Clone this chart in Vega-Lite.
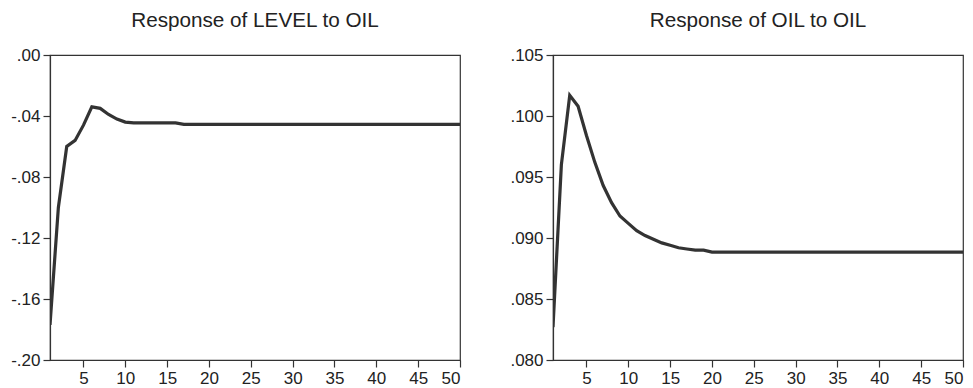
{
  "$schema": "https://vega.github.io/schema/vega-lite/v6.json",
  "background": "white",
  "padding": {"left": 4, "top": 9, "right": 2, "bottom": 0},
  "spacing": 45,
  "config": {
    "font": "Liberation Sans",
    "view": {"stroke": "#333", "strokeWidth": 1.2},
    "axis": {
      "grid": false,
      "domainColor": "#333",
      "domainWidth": 1.2,
      "tickColor": "#333",
      "tickWidth": 1.2,
      "tickSize": 7,
      "labelFont": "Liberation Sans",
      "labelFontSize": 17,
      "labelColor": "#222",
      "labelPadding": 3,
      "title": null
    },
    "title": {"font": "Liberation Sans", "fontSize": 20.7, "fontWeight": "normal", "color": "#222", "anchor": "middle", "offset": 14}
  },
  "datasets": {
    "level": [
      {"period": 1, "value": -0.177}, {"period": 2, "value": -0.100}, {"period": 3, "value": -0.060},
      {"period": 4, "value": -0.056}, {"period": 5, "value": -0.046}, {"period": 6, "value": -0.034},
      {"period": 7, "value": -0.035}, {"period": 8, "value": -0.039}, {"period": 9, "value": -0.042},
      {"period": 10, "value": -0.044}, {"period": 11, "value": -0.0445}, {"period": 12, "value": -0.0445},
      {"period": 13, "value": -0.0445}, {"period": 14, "value": -0.0445}, {"period": 15, "value": -0.0445},
      {"period": 16, "value": -0.0445}, {"period": 17, "value": -0.0455}, {"period": 18, "value": -0.0455},
      {"period": 19, "value": -0.0455}, {"period": 20, "value": -0.0455}, {"period": 21, "value": -0.0455},
      {"period": 22, "value": -0.0455}, {"period": 23, "value": -0.0455}, {"period": 24, "value": -0.0455},
      {"period": 25, "value": -0.0455}, {"period": 26, "value": -0.0455}, {"period": 27, "value": -0.0455},
      {"period": 28, "value": -0.0455}, {"period": 29, "value": -0.0455}, {"period": 30, "value": -0.0455},
      {"period": 31, "value": -0.0455}, {"period": 32, "value": -0.0455}, {"period": 33, "value": -0.0455},
      {"period": 34, "value": -0.0455}, {"period": 35, "value": -0.0455}, {"period": 36, "value": -0.0455},
      {"period": 37, "value": -0.0455}, {"period": 38, "value": -0.0455}, {"period": 39, "value": -0.0455},
      {"period": 40, "value": -0.0455}, {"period": 41, "value": -0.0455}, {"period": 42, "value": -0.0455},
      {"period": 43, "value": -0.0455}, {"period": 44, "value": -0.0455}, {"period": 45, "value": -0.0455},
      {"period": 46, "value": -0.0455}, {"period": 47, "value": -0.0455}, {"period": 48, "value": -0.0455},
      {"period": 49, "value": -0.0455}, {"period": 50, "value": -0.0455}
    ],
    "oil": [
      {"period": 1, "value": 0.0827}, {"period": 2, "value": 0.0960}, {"period": 3, "value": 0.1017},
      {"period": 4, "value": 0.1008}, {"period": 5, "value": 0.0984}, {"period": 6, "value": 0.0962},
      {"period": 7, "value": 0.0943}, {"period": 8, "value": 0.0929}, {"period": 9, "value": 0.0918},
      {"period": 10, "value": 0.0912}, {"period": 11, "value": 0.0906}, {"period": 12, "value": 0.0902},
      {"period": 13, "value": 0.0899}, {"period": 14, "value": 0.0896}, {"period": 15, "value": 0.0894},
      {"period": 16, "value": 0.0892}, {"period": 17, "value": 0.0891}, {"period": 18, "value": 0.0890},
      {"period": 19, "value": 0.0890}, {"period": 20, "value": 0.08885}, {"period": 21, "value": 0.08885},
      {"period": 22, "value": 0.08885}, {"period": 23, "value": 0.08885}, {"period": 24, "value": 0.08885},
      {"period": 25, "value": 0.08885}, {"period": 26, "value": 0.08885}, {"period": 27, "value": 0.08885},
      {"period": 28, "value": 0.08885}, {"period": 29, "value": 0.08885}, {"period": 30, "value": 0.08885},
      {"period": 31, "value": 0.08885}, {"period": 32, "value": 0.08885}, {"period": 33, "value": 0.08885},
      {"period": 34, "value": 0.08885}, {"period": 35, "value": 0.08885}, {"period": 36, "value": 0.08885},
      {"period": 37, "value": 0.08885}, {"period": 38, "value": 0.08885}, {"period": 39, "value": 0.08885},
      {"period": 40, "value": 0.08885}, {"period": 41, "value": 0.08885}, {"period": 42, "value": 0.08885},
      {"period": 43, "value": 0.08885}, {"period": 44, "value": 0.08885}, {"period": 45, "value": 0.08885},
      {"period": 46, "value": 0.08885}, {"period": 47, "value": 0.08885}, {"period": 48, "value": 0.08885},
      {"period": 49, "value": 0.08885}, {"period": 50, "value": 0.08885}
    ]
  },
  "hconcat": [
    {
      "title": "Response of LEVEL to OIL",
      "width": 410,
      "height": 305,
      "data": {"name": "level"},
      "mark": {"type": "line", "color": "#333", "strokeWidth": 3.2, "clip": true},
      "encoding": {
        "x": {"field": "period", "type": "quantitative", "scale": {"domain": [1, 50], "nice": false, "zero": false},
              "axis": {"values": [5, 10, 15, 20, 25, 30, 35, 40, 45, 50]}},
        "y": {"field": "value", "type": "quantitative", "scale": {"domain": [-0.2, 0], "nice": false, "zero": false},
              "axis": {"values": [-0.2, -0.16, -0.12, -0.08, -0.04, 0], "labelExpr": "replace(replace(format(datum.value, '.2f'), '\u2212', '-'), '0.', '.')", "minExtent": 45, "maxExtent": 45}}
      }
    },
    {
      "title": "Response of OIL to OIL",
      "width": 410,
      "height": 305,
      "data": {"name": "oil"},
      "mark": {"type": "line", "color": "#333", "strokeWidth": 3.2, "clip": true},
      "encoding": {
        "x": {"field": "period", "type": "quantitative", "scale": {"domain": [1, 50], "nice": false, "zero": false},
              "axis": {"values": [5, 10, 15, 20, 25, 30, 35, 40, 45, 50]}},
        "y": {"field": "value", "type": "quantitative", "scale": {"domain": [0.08, 0.105], "nice": false, "zero": false},
              "axis": {"values": [0.08, 0.085, 0.09, 0.095, 0.1, 0.105], "labelExpr": "replace(format(datum.value, '.3f'), '0.', '.')", "minExtent": 45, "maxExtent": 45}}
      }
    }
  ]
}
